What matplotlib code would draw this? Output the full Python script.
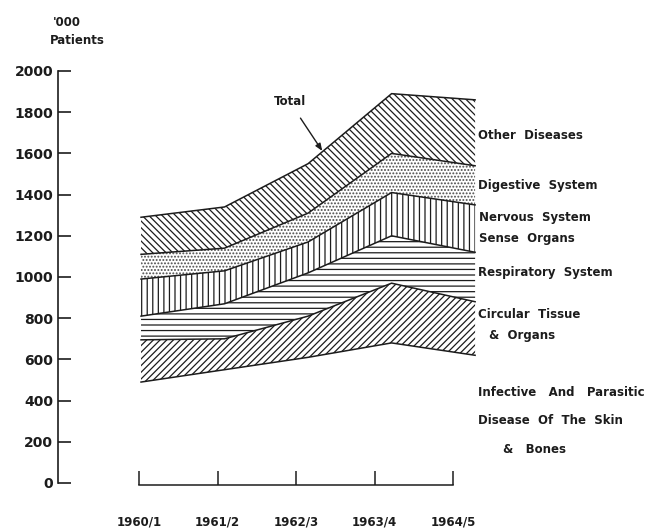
import numpy as np
import matplotlib
matplotlib.use('Agg')
import matplotlib.pyplot as plt

plt.rcParams['font.family'] = ['DejaVu Sans']
plt.rcParams['font.weight'] = 'bold'
plt.rcParams['hatch.linewidth'] = 0.9

ink = '#1c1c1c'

periods = ['1960/1', '1961/2', '1962/3', '1963/4', '1964/5']

# patients ('000) per group of diseases, bottom of the stack first
infective = [490, 550, 610, 680, 620]
circulatory = [205, 150, 200, 290, 260]
respiratory = [115, 170, 210, 230, 240]
nervous = [180, 160, 150, 210, 230]
digestive = [120, 110, 140, 190, 190]
other = [180, 200, 240, 290, 320]

yticks = [0, 200, 400, 600, 800, 1000, 1200, 1400, 1600, 1800, 2000]

W, H = 653, 530


def box(x0, y0, x1, y1):
    # pixel box (top-left origin) -> figure fraction rect
    return [x0 / W, 1 - y1 / H, (x1 - x0) / W, (y1 - y0) / H]


fig = plt.figure(figsize=(W / 100, H / 100), dpi=100)
fig.patch.set_facecolor('white')

ax = fig.add_axes(box(58, 71, 653, 483))
ax.set_xlim(-0.994, 6.13)
ax.set_ylim(0, 2000)
for s in ['top', 'right', 'bottom']:
    ax.spines[s].set_visible(False)
ax.spines['left'].set_linewidth(1.2)
ax.spines['left'].set_color(ink)
ax.set_xticks([])
ax.set_yticks(yticks)
ax.set_yticklabels([str(v) for v in yticks], fontsize=10, fontweight='bold', color=ink)
ax.tick_params(axis='y', direction='in', length=9.5, width=1.2, color=ink, pad=3.5)

x = np.arange(len(periods))
layers = [infective, circulatory, respiratory, nervous, digestive, other]
hatches = [None, '/' * 5, '---', '|||', '.....', '\\' * 5]
hatch_colors = [ink, ink, ink, ink, '#4a4a4a', ink]
tops = np.cumsum(np.array(layers), axis=0)

lower = np.zeros(len(periods))
for top, h, hc in zip(tops, hatches, hatch_colors):
    if h is not None:
        ax.fill_between(x, lower, top, facecolor='white', edgecolor=hc,
                        hatch=h, linewidth=0)
    lower = top
for top in tops:
    ax.plot(x, top, color=ink, lw=1.1, solid_joinstyle='miter')

# group names down the right hand side
kw = dict(fontsize=8.5, fontweight='bold', color=ink, va='center', ha='left')
ax.text(4.04, 1689, 'Other  Diseases', **kw)
ax.text(4.04, 1442, 'Digestive  System', **kw)
ax.text(4.05, 1291, 'Nervous  System', **kw)
ax.text(4.05, 1189, 'Sense  Organs', **kw)
ax.text(4.04, 1024, 'Respiratory  System', **kw)
ax.text(4.04, 816, 'Circular  Tissue', **kw)
ax.text(4.17, 718, '&  Organs', **kw)
ax.text(4.04, 437, 'Infective   And   Parasitic', **kw)
ax.text(4.04, 301, 'Disease  Of  The  Skin', **kw)
ax.text(4.34, 165, '&   Bones', **kw)

ax.annotate('Total', xy=(2.17, 1612), xytext=(1.78, 1850),
            fontsize=8.5, fontweight='bold', color=ink, ha='center', va='center',
            arrowprops=dict(arrowstyle='-|>,head_length=0.5,head_width=0.2',
                            color=ink, lw=1.0, shrinkA=6, shrinkB=0))

fig.text(53 / W, 1 - 22 / H, "'000", fontsize=8.5, fontweight='bold',
         color=ink, ha='left', va='center')
fig.text(50 / W, 1 - 41 / H, 'Patients', fontsize=8.5, fontweight='bold',
         color=ink, ha='left', va='center')

# period axis underneath
axp = fig.add_axes(box(139, 420, 453, 485))
axp.set_xlim(0, 4)
axp.set_ylim(0, 1)
axp.patch.set_alpha(0)
for s in ['top', 'right', 'left']:
    axp.spines[s].set_visible(False)
axp.spines['bottom'].set_linewidth(1.1)
axp.spines['bottom'].set_color(ink)
axp.set_yticks([])
axp.set_xticks(range(len(periods)))
axp.set_xticklabels(periods, fontsize=8.5, fontweight='bold', color=ink)
axp.tick_params(axis='x', direction='in', length=10, width=1.1, color=ink, pad=22)

fig.savefig('out.png', dpi=100, facecolor='white')
